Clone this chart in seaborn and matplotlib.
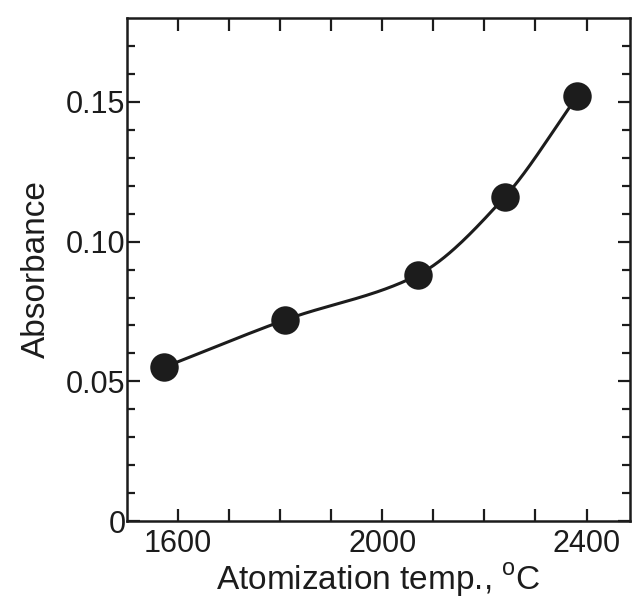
import numpy as np
import pandas as pd
import matplotlib
matplotlib.use("Agg")
import matplotlib.pyplot as plt
import seaborn as sns

# Measured absorbance versus atomization temperature
temperature = [1572, 1810, 2069, 2240, 2382]
absorbance = [0.055, 0.072, 0.088, 0.116, 0.152]

x_ticks = [1600, 1700, 1800, 1900, 2000, 2100, 2200, 2300, 2400]
x_tick_labels = ["1600", "", "", "", "2000", "", "", "", "2400"]
y_ticks = [0.0, 0.05, 0.10, 0.15]
y_tick_labels = ["0", "0.05", "0.10", "0.15"]

df = pd.DataFrame({"temp": temperature, "abs": absorbance})

sns.set_theme(style="ticks")
plt.rcParams["font.family"] = ["Liberation Sans", "DejaVu Sans"]
plt.rcParams["mathtext.fontset"] = "custom"
plt.rcParams["mathtext.rm"] = "Liberation Sans"

ink = "#1c1c1c"

fig = plt.figure(figsize=(6.35, 5.99), dpi=100)
ax = fig.add_axes([0.2, 0.13, 0.792, 0.84])


def monotone_curve(x, y, n=200):
    """Fritsch-Carlson monotone cubic through the points."""
    x = np.asarray(x, float)
    y = np.asarray(y, float)
    h = np.diff(x)
    d = np.diff(y) / h
    m = np.zeros_like(y)
    m[0], m[-1] = d[0], d[-1]
    for i in range(1, len(x) - 1):
        if d[i - 1] * d[i] > 0:
            w1 = 2 * h[i] + h[i - 1]
            w2 = h[i] + 2 * h[i - 1]
            m[i] = (w1 + w2) / (w1 / d[i - 1] + w2 / d[i])
    xs, ys = [], []
    for i in range(len(x) - 1):
        t = np.linspace(0, 1, n // (len(x) - 1))
        h00 = 2 * t**3 - 3 * t**2 + 1
        h10 = t**3 - 2 * t**2 + t
        h01 = -2 * t**3 + 3 * t**2
        h11 = t**3 - t**2
        xs.append(x[i] + t * h[i])
        ys.append(h00 * y[i] + h10 * h[i] * m[i] + h01 * y[i + 1] + h11 * h[i] * m[i + 1])
    return np.concatenate(xs), np.concatenate(ys)


cx, cy = monotone_curve(df["temp"], df["abs"])
ax.plot(cx, cy, color=ink, lw=2.2, zorder=2)
sns.scatterplot(data=df, x="temp", y="abs", ax=ax, s=420, color=ink,
                edgecolor=ink, linewidth=0, zorder=3, legend=False)

ax.set_xlim(1500, 2485)
ax.set_ylim(0, 0.18)

ax.set_xticks(x_ticks)
ax.set_xticklabels(x_tick_labels)
ax.set_yticks(y_ticks)
ax.set_yticklabels(y_tick_labels)
ax.set_yticks(np.arange(0.01, 0.18, 0.01), minor=True)

ax.tick_params(axis="both", which="both", direction="in", top=True, right=True,
               colors=ink, width=1.6, labelsize=22, labelcolor=ink)
ax.tick_params(axis="x", which="major", length=9, pad=6)
ax.tick_params(axis="y", which="major", length=9, pad=1)
ax.tick_params(axis="y", which="minor", length=5.5)

for side in ["left", "right", "top", "bottom"]:
    ax.spines[side].set_visible(True)
    ax.spines[side].set_linewidth(1.8)
    ax.spines[side].set_color(ink)

ax.set_xlabel("Atomization temp., $^{\\mathregular{o}}$C", fontsize=24, color=ink, labelpad=1)
ax.set_ylabel("Absorbance", fontsize=24, color=ink, labelpad=10)

fig.savefig("out.png", dpi=100, facecolor="white")
